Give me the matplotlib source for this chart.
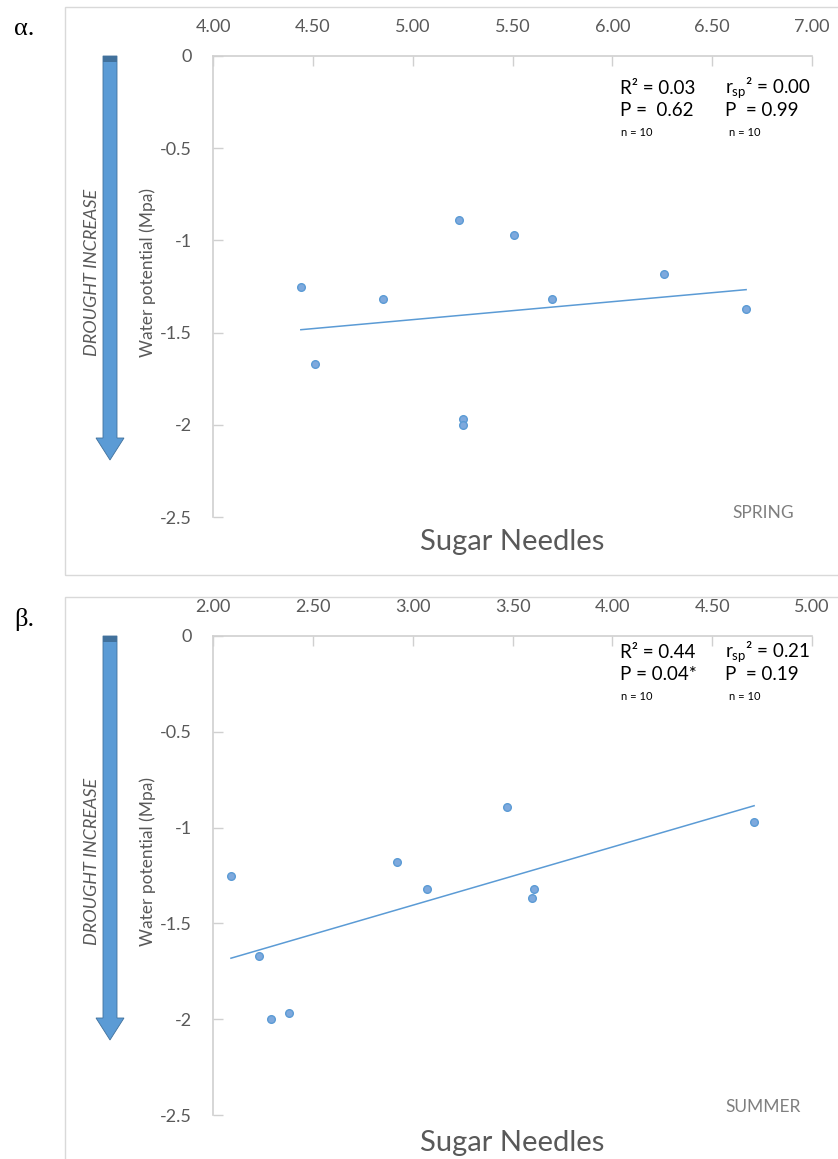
import numpy as np
import matplotlib.pyplot as plt
from matplotlib.patches import Rectangle, Polygon

plt.rcParams['font.family'] = ['Lato', 'DejaVu Sans']
plt.rcParams['mathtext.default'] = 'regular'

W, H = 838, 1159

# sugar content of needles (x) against water potential (y), same 10 trees
spring_sugar = [4.44, 4.51, 4.85, 5.23, 5.51, 5.70, 5.25, 5.25, 6.26, 6.67]
spring_wp = [-1.25, -1.67, -1.32, -0.89, -0.97, -1.32, -1.97, -2.00, -1.18, -1.37]
summer_sugar = [2.09, 2.23, 2.29, 2.38, 2.92, 3.07, 3.47, 3.61, 3.60, 4.71]
summer_wp = [-1.25, -1.67, -2.00, -1.97, -1.18, -1.32, -0.89, -1.32, -1.37, -0.97]

spring_ticks = [4.00, 4.50, 5.00, 5.50, 6.00, 6.50, 7.00]
summer_ticks = [2.00, 2.50, 3.00, 3.50, 4.00, 4.50, 5.00]
wp_ticks = [0, -0.5, -1, -1.5, -2, -2.5]

spring_stats = ['R² = 0.03', 'P =  0.62', 'r$_{sp}$² = 0.00', 'P  = 0.99']
summer_stats = ['R² = 0.44', 'P = 0.04*', 'r$_{sp}$² = 0.21', 'P  = 0.19']

BLUE = '#5b9bd5'
DARK = '#41719c'
GREY = '#595959'
SPINE = '#d0d0d0'

fig = plt.figure(figsize=(W / 100, H / 100), dpi=100)


def fx(x):
    return x / W


def fy(y):
    return 1 - y / H


def panel(top, bottom, frame_top, xs, ys, xticks, stats, stats_y, season, season_y, xlab_y, greek):
    # outer chart frame
    fig.patches.append(Rectangle((fx(65), fy(frame_top + 568)), 1, 568 / H,
                                 transform=fig.transFigure, fill=False,
                                 ec='#d9d9d9', lw=1))
    fig.text(fx(14), fy(frame_top + 22), greek, family='Liberation Serif',
             fontsize=19, va='center', ha='left', color='black')

    ax = fig.add_axes([fx(213), fy(bottom), (812 - 213) / W, (bottom - top) / H])
    ax.set_xlim(xticks[0], xticks[-1])
    ax.set_ylim(-2.5, 0)
    for side in ['bottom', 'right']:
        ax.spines[side].set_visible(False)
    for side in ['top', 'left']:
        ax.spines[side].set_color(SPINE)
        ax.spines[side].set_linewidth(1.2)
    ax.xaxis.set_ticks_position('top')
    ax.set_xticks(xticks)
    ax.set_xticklabels(['%.2f' % t for t in xticks])
    ax.set_yticks(wp_ticks)
    ax.set_yticklabels(['%g' % t for t in wp_ticks])
    ax.tick_params(axis='x', direction='in', length=7, color=SPINE, width=1,
                   labelsize=13, labelcolor=GREY, pad=15)
    ax.tick_params(axis='y', direction='in', length=7, color=SPINE, width=1,
                   labelsize=13, labelcolor=GREY, pad=15)

    ax.plot(xs, ys, 'o', ms=5.5, mfc='#7ea9dd', mec=BLUE, mew=1, zorder=3)
    slope, icpt = np.polyfit(xs, ys, 1)
    xl = np.array([min(xs), max(xs)])
    ax.plot(xl, slope * xl + icpt, color=BLUE, lw=1.1)

    # regression statistics
    kw = dict(transform=fig.transFigure, fontsize=13.5, color='black', va='center')
    ax.text(fx(620), fy(stats_y), stats[0], **kw)
    ax.text(fx(620), fy(stats_y + 23), stats[1], **kw)
    ax.text(fx(725), fy(stats_y), stats[2], **kw)
    ax.text(fx(725), fy(stats_y + 23), stats[3], **kw)
    kw['fontsize'] = 8
    ax.text(fx(621), fy(stats_y + 45), 'n = 10', **kw)
    ax.text(fx(729), fy(stats_y + 45), 'n = 10', **kw)

    fig.text(fx(763), fy(season_y), season, fontsize=12.5, color='#7f7f7f',
             ha='center', va='center')
    fig.text(fx(512), fy(xlab_y), 'Sugar Needles', fontsize=21, color=GREY,
             ha='center', va='center')
    mid = (top + bottom) / 2
    fig.text(fx(148), fy(mid - 14), 'Water potential (Mpa)', fontsize=12.5,
             color=GREY, rotation=90, ha='center', va='center')
    fig.text(fx(92), fy(mid - 14), 'DROUGHT INCREASE', fontsize=13, color=GREY,
             style='italic', rotation=90, ha='center', va='center')

    # drought arrow beside the axis
    a0 = top
    head = a0 + 382
    tip = a0 + 404
    shaft = [(103, a0), (117, a0), (117, head), (124, head), (110, tip),
             (96, head), (103, head)]
    fig.patches.append(Polygon([(fx(x), fy(y)) for x, y in shaft], closed=True,
                               transform=fig.transFigure, fc=BLUE, ec=DARK, lw=0.6))
    fig.patches.append(Rectangle((fx(103), fy(a0 + 6)), 14 / W, 6 / H,
                                 transform=fig.transFigure, fc=DARK, ec='none'))
    return ax


panel(56, 517, 7, spring_sugar, spring_wp, spring_ticks, spring_stats, 88,
      'SPRING', 513, 542, 'α.')
panel(636, 1115, 597, summer_sugar, summer_wp, summer_ticks, summer_stats, 652,
      'SUMMER', 1107, 1143, 'β.')

fig.savefig('out.png', dpi=100, facecolor='white')
